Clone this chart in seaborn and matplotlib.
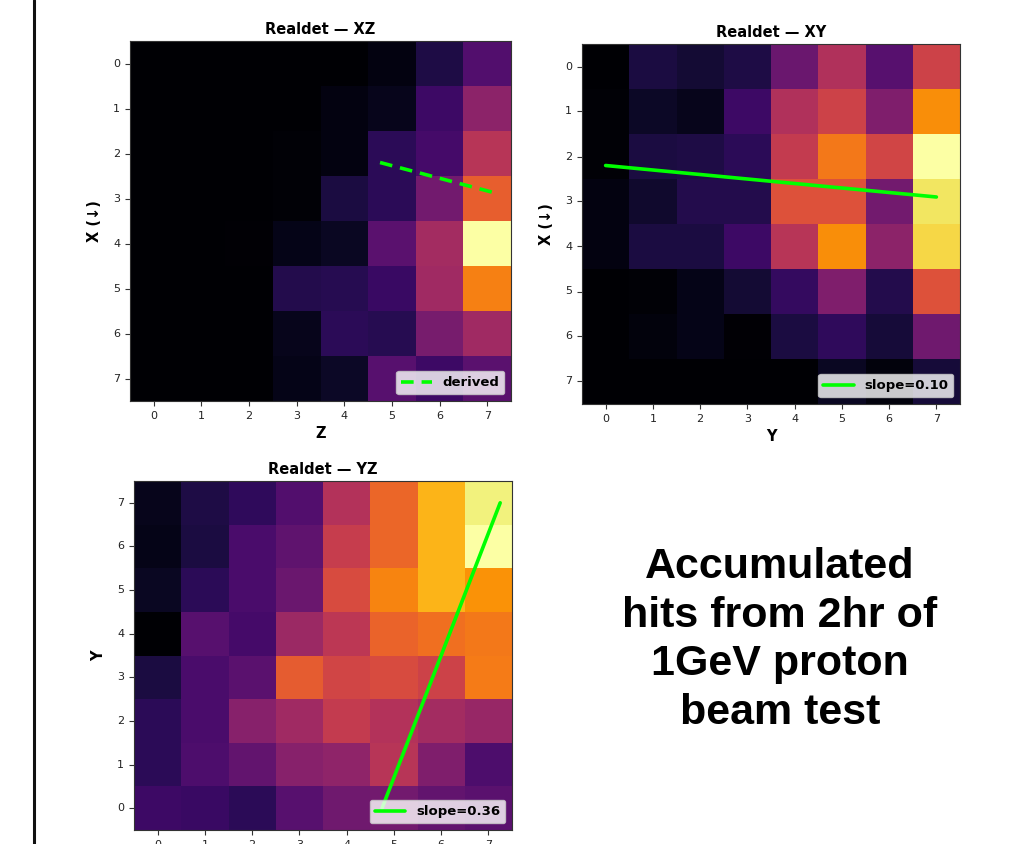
import numpy as np
import pandas as pd
import matplotlib
matplotlib.use("Agg")
import matplotlib.pyplot as plt
from matplotlib.lines import Line2D
import seaborn as sns

sns.set_theme(style="white")
plt.rcParams['font.family'] = ['DejaVu Sans']
plt.rcParams['text.color'] = 'black'
plt.rcParams['axes.labelcolor'] = 'black'

# ---------------- data (normalized accumulated hits) ----------------
idx = [0, 1, 2, 3, 4, 5, 6, 7]

# XZ: rows = X (0 at top), cols = Z
xz_vals = [
    [0.00, 0.00, 0.00, 0.00, 0.00, 0.03, 0.12, 0.24],
    [0.00, 0.00, 0.00, 0.00, 0.03, 0.05, 0.19, 0.38],
    [0.00, 0.00, 0.00, 0.01, 0.03, 0.15, 0.21, 0.49],
    [0.00, 0.00, 0.00, 0.01, 0.11, 0.15, 0.32, 0.64],
    [0.00, 0.00, 0.005, 0.04, 0.06, 0.26, 0.44, 1.00],
    [0.00, 0.00, 0.00, 0.13, 0.14, 0.18, 0.43, 0.72],
    [0.00, 0.00, 0.00, 0.05, 0.15, 0.14, 0.33, 0.43],
    [0.00, 0.00, 0.00, 0.04, 0.07, 0.25, 0.19, 0.26],
]

# XY: rows = X (0 at top), cols = Y
xy_vals = [
    [0.00, 0.11, 0.09, 0.12, 0.30, 0.47, 0.25, 0.55],
    [0.01, 0.07, 0.05, 0.19, 0.47, 0.55, 0.35, 0.75],
    [0.01, 0.11, 0.12, 0.15, 0.52, 0.70, 0.56, 1.00],
    [0.03, 0.08, 0.13, 0.13, 0.60, 0.60, 0.32, 0.93],
    [0.03, 0.11, 0.11, 0.19, 0.49, 0.75, 0.38, 0.90],
    [0.00, 0.01, 0.04, 0.09, 0.17, 0.35, 0.13, 0.60],
    [0.00, 0.02, 0.04, 0.005, 0.11, 0.16, 0.10, 0.31],
    [0.00, 0.00, 0.00, 0.00, 0.00, 0.06, 0.02, 0.10],
]

# YZ: rows = Y (0 at bottom), cols = Z
yz_vals = [
    [0.19, 0.18, 0.15, 0.25, 0.31, 0.32, 0.28, 0.26],
    [0.15, 0.23, 0.28, 0.37, 0.39, 0.49, 0.35, 0.23],
    [0.15, 0.22, 0.37, 0.43, 0.52, 0.48, 0.44, 0.41],
    [0.11, 0.22, 0.26, 0.63, 0.56, 0.58, 0.55, 0.71],
    [0.00, 0.25, 0.21, 0.42, 0.50, 0.65, 0.68, 0.70],
    [0.06, 0.15, 0.22, 0.30, 0.58, 0.73, 0.83, 0.76],
    [0.04, 0.11, 0.22, 0.27, 0.53, 0.66, 0.83, 1.00],
    [0.05, 0.12, 0.16, 0.24, 0.48, 0.66, 0.83, 0.96],
]

# fitted track lines (endpoints in cell-index coordinates)
xz_line_z = [4.75, 7.25]
xz_line_x = [2.20, 2.90]
xy_line_y = [0.0, 7.0]
xy_line_x = [2.20, 2.90]
yz_line_z = [4.75, 7.25]
yz_line_y = [0.0, 7.0]

xz_label = "derived"
xy_label = "slope=0.10"
yz_label = "slope=0.36"
note = "Accumulated\nhits from 2hr of\n1GeV proton\nbeam test"

# ---------------- figure ----------------
W, H = 1023, 844
fig = plt.figure(figsize=(W / 100, H / 100), dpi=100)
fig.patch.set_facecolor("white")


def px_axes(l, t, r, b):
    return fig.add_axes([l / W, 1 - b / H, (r - l) / W, (b - t) / H])


def heat(ax, vals, title, xlabel, ylabel, flip=False):
    df = pd.DataFrame(vals, index=idx, columns=idx)
    sns.heatmap(df, ax=ax, cmap="inferno", cbar=False, vmin=0, vmax=1,
                xticklabels=idx, yticklabels=idx)
    if flip:
        ax.invert_yaxis()
    for s in ax.spines.values():
        s.set_visible(True)
        s.set_color("#333333")
        s.set_linewidth(0.8)
    ax.tick_params(axis="both", which="both", length=3.5, width=0.8,
                   labelsize=8, color="#333333", bottom=True, left=True,
                   labelcolor="#222222")
    ax.set_yticklabels(idx, rotation=0)
    ax.set_xticklabels(idx, rotation=0)
    ax.set_title(title, fontsize=10.5, fontweight="bold", pad=5, color="black")
    ax.set_xlabel(xlabel, fontsize=10.5, fontweight="bold", labelpad=4)
    ax.set_ylabel(ylabel, fontsize=10.5, fontweight="bold", labelpad=8)


def add_legend(ax):
    leg = ax.legend(loc="lower right", prop={"weight": "bold", "size": 9.5},
                    framealpha=0.8, handlelength=2.3, borderpad=0.4,
                    fancybox=True)
    leg.get_frame().set_edgecolor("#cccccc")
    for t in leg.get_texts():
        t.set_color("black")


ax1 = px_axes(130, 41, 511, 401)
heat(ax1, xz_vals, "Realdet — XZ", "Z", "X (↓)")
ax1.plot(np.array(xz_line_z) + 0.5, np.array(xz_line_x) + 0.5, color="#00ff00",
         lw=2.6, ls=(0, (3.5, 2.2)), label=xz_label)
add_legend(ax1)

ax2 = px_axes(582, 44, 960, 404)
heat(ax2, xy_vals, "Realdet — XY", "Y", "X (↓)")
ax2.plot(np.array(xy_line_y) + 0.5, np.array(xy_line_x) + 0.5, color="#00ff00",
         lw=2.6, label=xy_label)
add_legend(ax2)

ax3 = px_axes(134, 481, 512, 830)
heat(ax3, yz_vals, "Realdet — YZ", "Z", "Y", flip=True)
ax3.plot(np.array(yz_line_z) + 0.5, np.array(yz_line_y) + 0.5, color="#00ff00",
         lw=2.6, label=yz_label)
add_legend(ax3)

fig.text(780 / W, 1 - 640 / H, note, ha="center", va="center",
         fontsize=31, fontweight="bold", family="Liberation Sans",
         linespacing=1.27, color="black")

fig.add_artist(Line2D([34 / W, 34 / W], [0, 1], color="#111111", lw=2.2,
                      transform=fig.transFigure))

fig.savefig("out.png", dpi=100, facecolor="white")
